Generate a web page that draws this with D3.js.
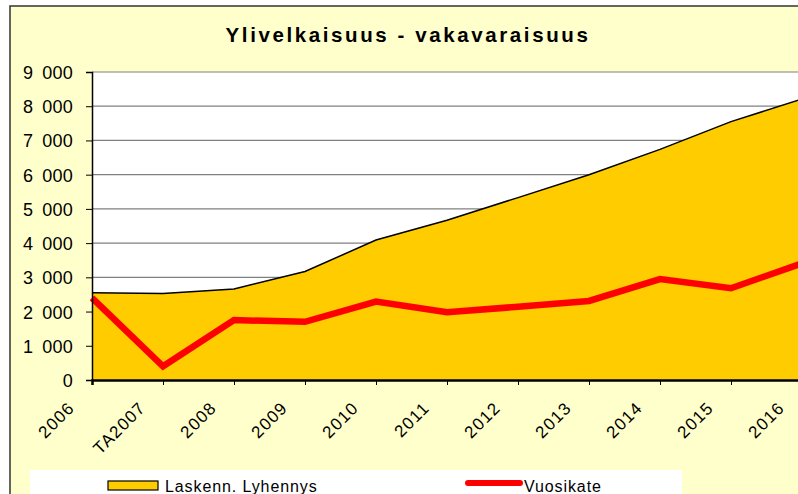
<!DOCTYPE html>
<html>
<head>
<meta charset="utf-8">
<script src="https://cdn.jsdelivr.net/npm/d3@7"></script>
<style>
  html, body { margin: 0; padding: 0; background: #fff; overflow: hidden; }
  svg { display: block; font-family: "Liberation Sans", Arial, sans-serif; }
</style>
</head>
<body>
<div id="chart"></div>
<script>
const years = ["2006", "TA2007", "2008", "2009", "2010", "2011", "2012", "2013", "2014", "2015", "2016"];
const lyhennys = [2550, 2530, 2660, 3170, 4090, 4670, 5330, 6000, 6740, 7550, 8210];
const vuosikate = [2400, 400, 1750, 1700, 2290, 1980, 2140, 2310, 2950, 2680, 3410];
const yTicks = [0, 1000, 2000, 3000, 4000, 5000, 6000, 7000, 8000, 9000];

const W = 798, H = 494;
const PLOT = {left: 92, right: 802, top: 72, bottom: 380};

const svg = d3.select("#chart").append("svg")
    .attr("width", W)
    .attr("height", H);

// background + frame
svg.append("rect")
    .attr("x", 0).attr("y", 0)
    .attr("width", W).attr("height", H)
    .attr("fill", "#fff");
svg.append("rect")
    .attr("x", 10).attr("y", 6)
    .attr("width", W).attr("height", H)
    .attr("fill", "#FFFFCC")
    .attr("stroke", "#333")
    .attr("stroke-width", 1.5);

svg.append("text")
    .attr("x", 408)
    .attr("y", 42)
    .attr("text-anchor", "middle")
    .attr("font-size", 20.5)
    .attr("font-weight", "bold")
    .attr("letter-spacing", 2.6)
    .text("Ylivelkaisuus - vakavaraisuus");

const x = d3.scalePoint()
    .domain(years)
    .range([PLOT.left, PLOT.right]);

const y = d3.scaleLinear()
    .domain([0, 9000])
    .range([PLOT.bottom, PLOT.top]);

// plot area
svg.append("rect")
    .attr("x", PLOT.left).attr("y", PLOT.top)
    .attr("width", PLOT.right - PLOT.left)
    .attr("height", PLOT.bottom - PLOT.top)
    .attr("fill", "#fff");

svg.append("g")
    .selectAll("line")
    .data(yTicks.filter(d => d > 0))
    .join("line")
        .attr("x1", PLOT.left).attr("x2", PLOT.right)
        .attr("y1", d => y(d)).attr("y2", d => y(d))
        .attr("stroke", "#808080")
        .attr("stroke-width", 1.2);

const area = d3.area()
    .x((d, i) => x(years[i]))
    .y0(y(0))
    .y1(d => y(d));

svg.append("path")
    .datum(lyhennys)
    .attr("fill", "#FFCC00")
    .attr("d", area);

const topLine = d3.line()
    .x((d, i) => x(years[i]))
    .y(d => y(d));

svg.append("path")
    .datum(lyhennys)
    .attr("fill", "none")
    .attr("stroke", "#000")
    .attr("stroke-width", 1.5)
    .attr("d", topLine);

svg.append("path")
    .datum(vuosikate)
    .attr("fill", "none")
    .attr("stroke", "#FF0000")
    .attr("stroke-width", 6.5)
    .attr("stroke-linejoin", "miter")
    .attr("d", topLine);

// axes
const fmt = d => d3.format(",")(d).replace(/,/g, "\u2002");

const yAxis = svg.append("g")
    .attr("transform", `translate(${PLOT.left},0)`)
    .call(d3.axisLeft(y).tickValues(yTicks).tickFormat(fmt).tickSize(6).tickPadding(13));
yAxis.select(".domain").attr("stroke", "#000").attr("stroke-width", 1.5);
yAxis.selectAll(".tick line").attr("stroke", "#000");
yAxis.selectAll("text")
    .attr("font-size", 18)
    .attr("letter-spacing", 0.2)
    .attr("dy", "0.36em")
    .attr("fill", "#000")
    .attr("font-family", "Liberation Sans, Arial, sans-serif");

const xAxis = svg.append("g")
    .attr("transform", `translate(0,${PLOT.bottom})`)
    .call(d3.axisBottom(x).tickSize(5));
xAxis.select(".domain").attr("stroke", "#000").attr("stroke-width", 2.5);
xAxis.selectAll(".tick line").attr("stroke", "#000");
xAxis.selectAll("text")
    .attr("font-size", 17)
    .attr("letter-spacing", 1.2)
    .attr("fill", "#000")
    .attr("font-family", "Liberation Sans, Arial, sans-serif")
    .attr("text-anchor", "end")
    .attr("dy", 0)
    .attr("transform", "translate(-17,29) rotate(-45)")
    .attr("y", 0)
    .attr("x", 0);

// legend
svg.append("rect")
    .attr("x", 30).attr("y", 470)
    .attr("width", 652).attr("height", 40)
    .attr("fill", "#fff");

svg.append("rect")
    .attr("x", 108).attr("y", 481)
    .attr("width", 50).attr("height", 9)
    .attr("fill", "#FFCC00")
    .attr("stroke", "#000")
    .attr("stroke-width", 1.2);
svg.append("text")
    .attr("x", 165).attr("y", 492)
    .attr("font-size", 16)
    .attr("letter-spacing", 0.9)
    .text("Laskenn. Lyhennys");

svg.append("line")
    .attr("x1", 468).attr("x2", 520)
    .attr("y1", 483).attr("y2", 483)
    .attr("stroke", "#FF0000")
    .attr("stroke-width", 6)
    .attr("stroke-linecap", "round");
svg.append("text")
    .attr("x", 524).attr("y", 492)
    .attr("font-size", 16)
    .attr("letter-spacing", 0.9)
    .text("Vuosikate");
</script>
</body>
</html>
